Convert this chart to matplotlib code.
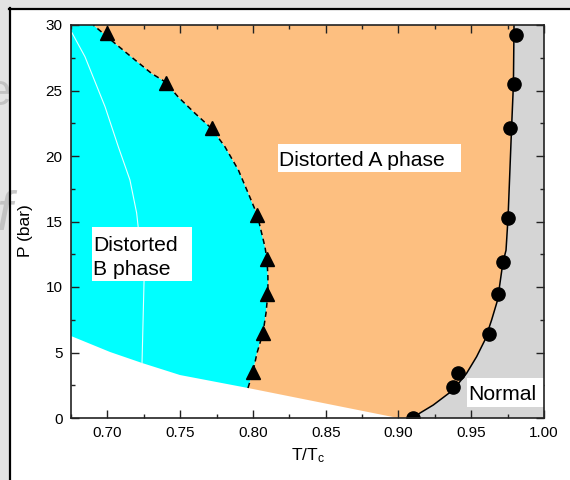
import matplotlib
matplotlib.use("Agg")
import matplotlib.pyplot as plt
import numpy as np
from matplotlib.patches import Rectangle
from matplotlib.lines import Line2D
from matplotlib.ticker import MultipleLocator, FormatStrFormatter

plt.rcParams['font.family'] = ['Liberation Sans', 'DejaVu Sans']
plt.rcParams['mathtext.default'] = 'regular'

# measured points (T/Tc, P in bar)
tri_T = [0.700, 0.740, 0.772, 0.803, 0.810, 0.810, 0.807, 0.800]
tri_P = [29.4, 25.6, 22.1, 15.5, 12.1, 9.5, 6.5, 3.5]

circ_T = [0.9808, 0.9794, 0.9766, 0.9753, 0.9718, 0.9684, 0.9622, 0.9409, 0.9375, 0.9100]
circ_P = [29.2, 25.5, 22.1, 15.3, 11.9, 9.5, 6.4, 3.4, 2.4, 0.0]

# A-B boundary (dashed), bottom to top
ab_T = [0.7966, 0.8000, 0.8028, 0.8069, 0.8090, 0.8103, 0.8103, 0.8097, 0.8083,
        0.8030, 0.7968, 0.7900, 0.7808, 0.7716, 0.7602, 0.7487, 0.7396, 0.7304,
        0.7190, 0.7052, 0.6903]
ab_P = [2.29, 3.51, 4.96, 6.49, 8.02, 9.54, 10.76, 12.06, 13.05,
        15.5, 17.15, 18.93, 20.7, 22.1, 23.26, 24.5, 25.67, 26.3,
        27.33, 28.6, 30.0]

# A-normal boundary (solid), bottom to top
an_T = [0.9100, 0.9148, 0.9239, 0.9376, 0.9468, 0.9537, 0.9594, 0.9640, 0.9681,
        0.9718, 0.9739, 0.9753, 0.9777, 0.9790, 0.9794]
an_P = [0.0, 0.38, 0.99, 2.14, 3.41, 4.68, 5.95, 7.48, 9.0,
        11.9, 12.8, 15.3, 22.1, 25.5, 30.0]

# lower edge of the ordered phases, left to right
low_T = [0.6750, 0.7018, 0.7238, 0.7499, 0.7966, 0.8997]
low_P = [6.26, 5.04, 4.20, 3.28, 2.29, 0.0]

# thin white line inside B region
wl_T = [0.6757, 0.6846, 0.6984, 0.7075, 0.7155, 0.7201, 0.7252, 0.7238]
wl_P = [29.4, 27.58, 23.76, 20.71, 18.17, 15.65, 10.5, 4.2]

xmin, xmax = 0.675, 1.00
ymin, ymax = 0, 30

fig = plt.figure(figsize=(5.7, 4.8), dpi=100)
fig.patch.set_facecolor('white')

# slide frame around the figure
fig.patches.append(Rectangle((0, 1 - 8.5 / 480), 1, 8.5 / 480, transform=fig.transFigure,
                             fc='#e3e3e3', ec='none', zorder=0))
fig.patches.append(Rectangle((0, 0), 9.5 / 570, 1, transform=fig.transFigure,
                             fc='#e3e3e3', ec='none', zorder=0))
fig.text(-0.025, 0.781, 'e', fontsize=32, color='#bdbdbd', alpha=0.85, zorder=1)
fig.text(-0.006, 0.521, 'f', fontsize=40, style='italic', color='#bdbdbd', alpha=0.85,
         zorder=1)
fig.lines.append(Line2D([9 / 570, 1], [1 - 8.5 / 480] * 2, transform=fig.transFigure,
                        color='black', lw=1.6, zorder=2))
fig.lines.append(Line2D([9.5 / 570] * 2, [0, 1 - 8 / 480], transform=fig.transFigure,
                        color='black', lw=1.6, zorder=2))

ax = fig.add_axes([71 / 570, 62 / 480, 473 / 570, 393 / 480])
ax.set_xlim(xmin, xmax)
ax.set_ylim(ymin, ymax)

# B phase region
b_x = np.concatenate([[xmin, xmin], ab_T[::-1], low_T[4::-1]])
b_y = np.concatenate([[low_P[0], ymax], ab_P[::-1], low_P[4::-1]])
ax.fill(b_x, b_y, color='#00ffff', lw=0, zorder=1)

# A phase region
a_x = np.concatenate([ab_T[::-1], low_T[4:], an_T, [ab_T[-1]]])
a_y = np.concatenate([ab_P[::-1], low_P[4:], an_P, [ymax]])
ax.fill(a_x, a_y, color='#fdbf80', lw=0, zorder=1)

# normal region
n_x = np.concatenate([an_T, [xmax, xmax]])
n_y = np.concatenate([an_P, [ymax, ymin]])
ax.fill(n_x, n_y, color='#d5d5d5', lw=0, zorder=1)

ax.plot(wl_T, wl_P, color='#e6ffff', lw=0.8, zorder=2)
ax.plot(ab_T, ab_P, color='black', lw=1.1, ls=(0, (3.5, 2.5)), zorder=3)
ax.plot(an_T, an_P, color='black', lw=1.1, zorder=3)
ax.plot(tri_T, tri_P, '^', color='black', ms=10, zorder=6)
ax.plot(circ_T, circ_P, 'o', color='black', ms=9.5, zorder=6)

# phase labels
ax.add_patch(Rectangle((0.8172, 18.78), 0.1258, 2.14, fc='white', ec='none', zorder=4))
ax.text(0.8179, 19.24, 'Distorted A phase', fontsize=15.2, va='baseline', zorder=5)
ax.add_patch(Rectangle((0.6894, 10.46), 0.0687, 4.12, fc='white', ec='none', zorder=4))
ax.text(0.6901, 10.92, 'Distorted\nB phase', fontsize=15.2, va='baseline',
        linespacing=1.3, zorder=5)
ax.add_patch(Rectangle((0.9471, 0.84), 0.0529, 2.21, fc='white', ec='none', zorder=4))
ax.text(0.9478, 1.37, 'Normal', fontsize=15.2, va='baseline', zorder=5)

ax.xaxis.set_major_locator(MultipleLocator(0.05))
ax.xaxis.set_minor_locator(MultipleLocator(0.025))
ax.yaxis.set_major_locator(MultipleLocator(5))
ax.yaxis.set_minor_locator(MultipleLocator(2.5))
ax.xaxis.set_major_formatter(FormatStrFormatter('%.2f'))
ax.tick_params(which='both', direction='in', top=True, right=True,
               labelsize=11, pad=6, color='#222222')
ax.tick_params(which='major', length=6, width=1)
ax.tick_params(which='minor', length=3, width=1)
for s in ax.spines.values():
    s.set_linewidth(1.2)
    s.set_color('#222222')
    s.set_zorder(7)

ax.set_xlabel('T/T$_c$', fontsize=12.5)
ax.set_ylabel('P (bar)', fontsize=12.5)
ax.xaxis.set_label_coords(0.5, -0.072)
ax.yaxis.set_label_coords(-0.08, 0.476)

fig.savefig('out.png', dpi=100)
